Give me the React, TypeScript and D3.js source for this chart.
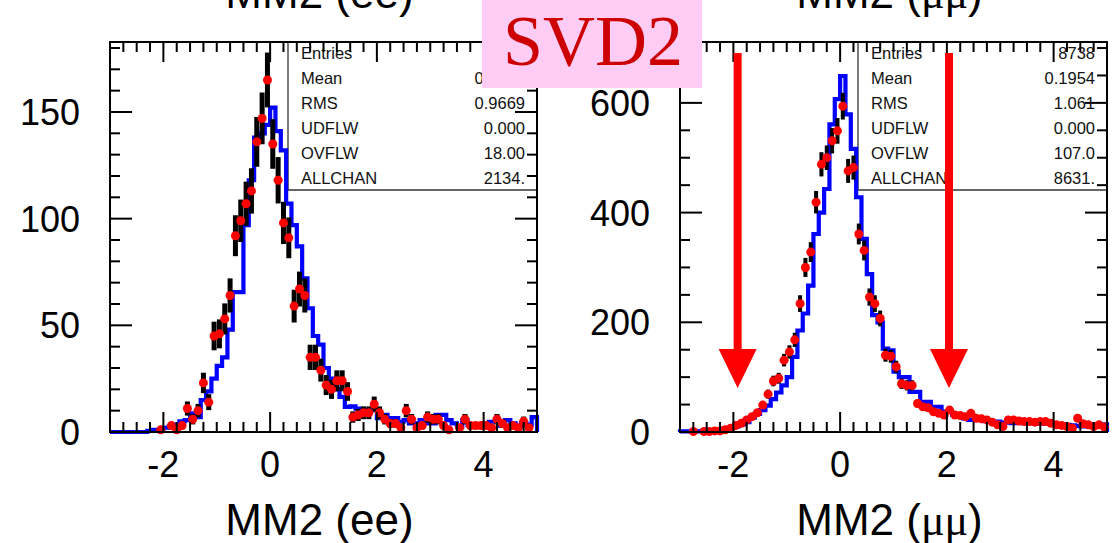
import React from "react";
import * as d3 from "d3";

// ---------- data ----------
const X_DOMAIN: [number, number] = [-3, 5];
const BIN_WIDTH = 0.1;
const X_TICK_LABELS = [-2, 0, 2, 4];

// MM2 (ee): data counts, 0.1 bins from -3 to 5
const EE_DATA = [
  0, 0, 0, 0, 0, 0, 0, 0, 0, 1,
  0, 3, 1, 3, 11, 6, 10, 23, 14, 45,
  46, 53, 64, 92, 99, 107, 113, 136, 147, 165,
  135, 118, 98, 91, 59, 67, 64, 35, 35, 29,
  22, 20, 24, 24, 19, 7, 8, 9, 9, 13,
  9, 6, 4, 4, 2, 10, 6, 2, 3, 7,
  6, 6, 3, 1, 0, 2, 6, 3, 3, 3,
  3, 2, 6, 4, 2, 3, 2, 5, 2, 0,
];
// MM2 (ee): MC histogram
const EE_MC = [
  0, 0, 0, 0, 0, 0, 0, 0.5, 1, 1,
  2, 2.5, 3.5, 5, 5.6, 8.7, 7, 15, 19, 25,
  31, 35, 48, 65.6, 65.6, 97, 118, 138, 140, 144,
  152, 141, 132, 107, 97, 87, 72, 58, 45, 41,
  30, 25, 20, 16.5, 11.8, 12, 11, 10, 10.3, 10.3,
  6.5, 8, 6.5, 6.5, 4.8, 5.6, 4, 4, 5.6, 4,
  4, 8, 8, 5.6, 4, 2.5, 5.6, 3.3, 3.3, 2.5,
  4, 4.8, 4.8, 3, 5.6, 4, 2.5, 4, 3.5, 7,
];
// MM2 (mumu): data counts
const MUMU_DATA = [
  0, 0, 1, 0, 1, 1, 2, 2, 4, 7,
  12, 16, 22, 28, 35, 49, 69, 93, 98, 131,
  146, 168, 234, 300, 328, 419, 488, 500, 531, 549,
  594, 476, 482, 361, 331, 246, 234, 207, 140, 138,
  119, 88, 85, 85, 52, 46, 44, 37, 34, 31,
  40, 31, 30, 28, 34, 25, 24, 22, 18, 13,
  10, 22, 22, 20, 19, 19, 18, 19, 19, 16,
  13, 12, 10, 7, 25, 15, 13, 10, 13, 9,
];
// MM2 (mumu): MC histogram
const MUMU_MC = [
  1, 1, 1, 1, 1.5, 2, 3, 4, 6, 7,
  10, 14, 18, 26, 33, 40, 48, 60, 72, 85,
  100, 137, 185, 216, 267, 361, 400, 443, 561, 607,
  649, 579, 516, 428, 352, 288, 213, 200, 152, 149,
  110, 100, 100, 73, 73, 55, 55, 46, 46, 37,
  37, 31, 31, 25, 22, 22, 22, 20, 19, 19,
  17, 17, 16, 17, 16, 16, 16, 15, 16, 15,
  14, 13, 13, 12, 11, 10, 10, 12, 11, 14,
];

const EE_Y_MAX = 182.8;
const EE_Y_TICKS = [0, 50, 100, 150];
const EE_Y_MINOR = 10;
const MUMU_Y_MAX = 711;
const MUMU_Y_TICKS = [0, 200, 400, 600];
const MUMU_Y_MINOR = 50;

const STAT_LABELS = ["Entries", "Mean", "RMS", "UDFLW", "OVFLW", "ALLCHAN"];
const EE_STATS = ["2152", "0.1912", "0.9669", "0.000", "18.00", "2134."];
const MUMU_STATS = ["8738", "0.1954", "1.061", "0.000", "107.0", "8631."];

const ARROW_X = [-1.92, 2.04];

// ---------- layout ----------
const W = 1113;
const H = 543;
const TOP = 42;
const BOTTOM = 432;
const SANS = "'Liberation Sans', Arial, Helvetica, sans-serif";
const SERIF = "'Liberation Serif', 'Times New Roman', serif";

type PanelProps = {
  left: number;
  right: number;
  yMax: number;
  yTicks: number[];
  yMinor: number;
  data: number[];
  mc: number[];
  stats: string[];
  statX: number;
  barW: number;
  dotR: number;
  mu: boolean;
  arrows?: number[];
};

function Panel(p: PanelProps) {
  const x = d3.scaleLinear().domain(X_DOMAIN).range([p.left, p.right]);
  const y = d3.scaleLinear().domain([0, p.yMax]).range([BOTTOM, TOP]);

  const pts: [number, number][] = [[X_DOMAIN[0], 0]];
  p.mc.forEach((v, i) => pts.push([X_DOMAIN[0] + i * BIN_WIDTH, v]));
  pts.push([X_DOMAIN[1], p.mc[p.mc.length - 1]]);
  pts.push([X_DOMAIN[1], 0]);
  const line = d3
    .line<[number, number]>()
    .x((d) => x(d[0]))
    .y((d) => y(d[1]))
    .curve(d3.curveStepAfter);

  const xMinor = d3.range(-2.75, 5, 0.25).filter((v) => Math.abs(v % 2) > 1e-6);
  const xMajor = X_TICK_LABELS;
  const yMinorVals = d3
    .range(p.yMinor, p.yMax, p.yMinor)
    .filter((v) => !p.yTicks.includes(v));
  const yMajorVals = p.yTicks.filter((v) => v > 0);

  const tickStyle = { stroke: "#000", strokeWidth: 2 };
  const boxX = p.statX;
  const centerX = (p.left + p.right) / 2 - 4;

  return (
    <g>
      {/* stats box */}
      <line x1={boxX} x2={boxX} y1={TOP} y2={190} stroke="#333" strokeWidth={1.3} />
      <line x1={boxX} x2={p.right} y1={190} y2={190} stroke="#333" strokeWidth={1.3} />
      {STAT_LABELS.map((lab, i) => (
        <g key={lab} fontFamily={SANS} fontSize={16.5} fill="#111">
          <text x={boxX + 13} y={58.5 + 25 * i}>{lab}</text>
          <text x={p.right - 12} y={58.5 + 25 * i} textAnchor="end">
            {p.stats[i]}
          </text>
        </g>
      ))}

      {/* MC histogram */}
      <path d={line(pts) || ""} fill="none" stroke="#0000ff" strokeWidth={4.2} strokeLinejoin="miter" />

      {/* data */}
      {p.data.map((v, i) => {
        if (v <= 0) return null;
        const cx = x(X_DOMAIN[0] + (i + 0.5) * BIN_WIDTH);
        const e = Math.sqrt(v);
        const y1 = y(Math.min(v + e, p.yMax));
        const y2 = y(Math.max(v - e, 0));
        return (
          <rect key={"e" + i} x={cx - p.barW / 2} y={y1} width={p.barW} height={y2 - y1} fill="#000" />
        );
      })}
      {p.data.map((v, i) =>
        v <= 0 ? null : (
          <circle
            key={"d" + i}
            cx={x(X_DOMAIN[0] + (i + 0.5) * BIN_WIDTH)}
            cy={y(v)}
            r={p.dotR}
            fill="#ff0000"
          />
        )
      )}

      {/* frame */}
      <rect x={p.left} y={TOP} width={p.right - p.left} height={BOTTOM - TOP} fill="none" stroke="#000" strokeWidth={2} />
      {xMinor.map((v) => (
        <g key={"xm" + v}>
          <line x1={x(v)} x2={x(v)} y1={BOTTOM} y2={BOTTOM - 10} style={tickStyle} />
          <line x1={x(v)} x2={x(v)} y1={TOP} y2={TOP + 10} style={tickStyle} />
        </g>
      ))}
      {xMajor.map((v) => (
        <g key={"xM" + v}>
          <line x1={x(v)} x2={x(v)} y1={BOTTOM} y2={BOTTOM - 20} style={tickStyle} />
          <line x1={x(v)} x2={x(v)} y1={TOP} y2={TOP + 20} style={tickStyle} />
          <text x={x(v)} y={477} textAnchor="middle" fontFamily={SANS} fontSize={36} fill="#000">
            {v}
          </text>
        </g>
      ))}
      {yMinorVals.map((v) => (
        <g key={"ym" + v}>
          <line x1={p.left} x2={p.left + 10} y1={y(v)} y2={y(v)} style={tickStyle} />
          <line x1={p.right} x2={p.right - 10} y1={y(v)} y2={y(v)} style={tickStyle} />
        </g>
      ))}
      {yMajorVals.map((v) => (
        <g key={"yM" + v}>
          <line x1={p.left} x2={p.left + 22} y1={y(v)} y2={y(v)} style={tickStyle} />
          <line x1={p.right} x2={p.right - 22} y1={y(v)} y2={y(v)} style={tickStyle} />
        </g>
      ))}
      {p.yTicks.map((v) => (
        <text
          key={"yl" + v}
          x={p.left - 30}
          y={y(v)}
          dy="0.36em"
          textAnchor="end"
          fontFamily={SANS}
          fontSize={36}
          fill="#000"
        >
          {v}
        </text>
      ))}

      {/* arrows */}
      {(p.arrows || []).map((a) => {
        const ax = x(a);
        return (
          <g key={"a" + a} fill="#ff0000">
            <rect x={ax - 4} y={53} width={8} height={298} />
            <path d={`M${ax - 19},349 L${ax + 19},349 L${ax},388 Z`} />
          </g>
        );
      })}

      {/* titles (bottom, and clipped copy at top) */}
      {[535, 8].map((by) => (
        <text key={"t" + by} x={centerX} y={by} textAnchor="middle" fontFamily={SANS} fontSize={44} fill="#000">
          MM2 (
          {p.mu ? <tspan fontFamily={SERIF}>μμ</tspan> : "ee"})
        </text>
      ))}
    </g>
  );
}

export default function App() {
  return (
    <svg
      width={W}
      height={H}
      viewBox={`0 0 ${W} ${H}`}
      style={{ position: "absolute", left: 0, top: 0, background: "#fff" }}
    >
      <rect x={0} y={0} width={W} height={H} fill="#fff" />
      <Panel
        left={110}
        right={537}
        yMax={EE_Y_MAX}
        yTicks={EE_Y_TICKS}
        yMinor={EE_Y_MINOR}
        data={EE_DATA}
        mc={EE_MC}
        stats={EE_STATS}
        statX={288}
        barW={5}
        dotR={4.5}
        mu={false}
      />
      <Panel
        left={680}
        right={1107}
        yMax={MUMU_Y_MAX}
        yTicks={MUMU_Y_TICKS}
        yMinor={MUMU_Y_MINOR}
        data={MUMU_DATA}
        mc={MUMU_MC}
        stats={MUMU_STATS}
        statX={858}
        barW={4}
        dotR={4.5}
        mu={true}
        arrows={ARROW_X}
      />
      <rect x={482} y={0} width={220} height={88} fill="#ffccf5" />
      <text x={593} y={65} textAnchor="middle" fontFamily={SERIF} fontSize={72} fill="#cc0000">
        SVD2
      </text>
    </svg>
  );
}
